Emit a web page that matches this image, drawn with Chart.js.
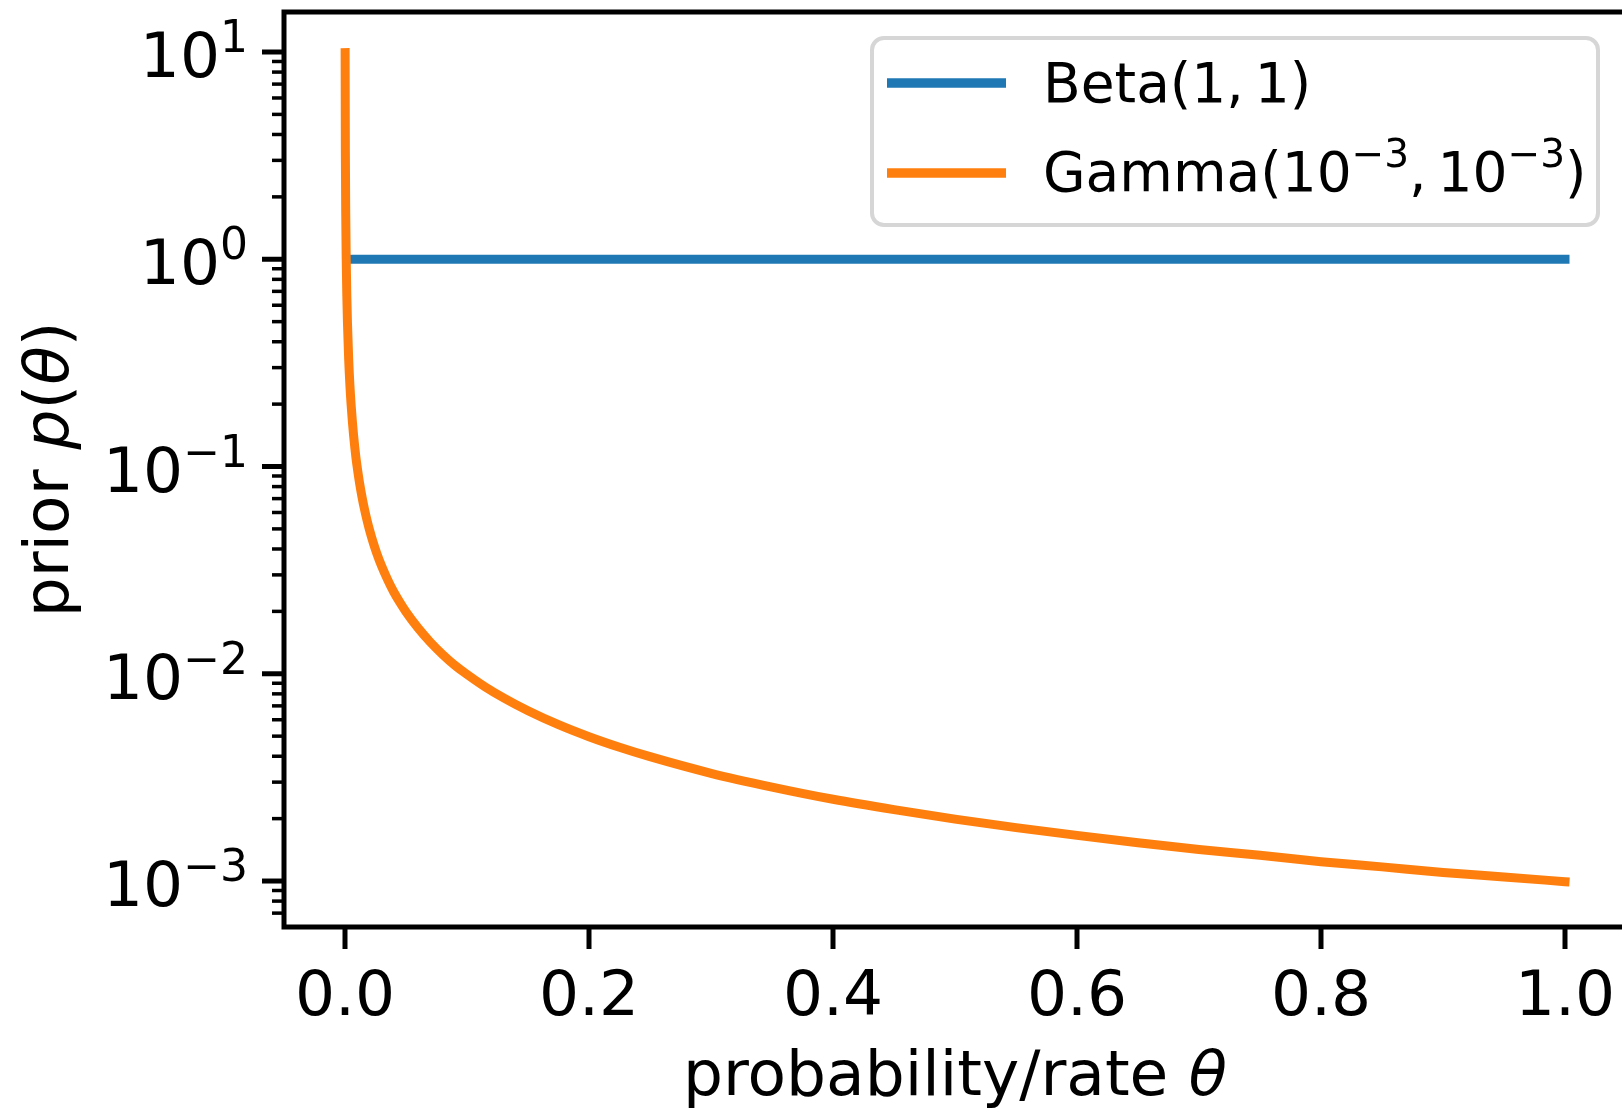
<!DOCTYPE html>
<html>
<head>
<meta charset="utf-8">
<script src="https://cdn.jsdelivr.net/npm/chart.js@4.4.0/dist/chart.umd.min.js"></script>
<style>
  html, body { margin: 0; padding: 0; background: #fff; overflow: hidden; }
  #wrap { width: 1622px; height: 1108px; overflow: hidden; position: relative; }
  #chart { position: absolute; left: 0; top: 0; }
</style>
</head>
<body>
<div id="wrap"><canvas id="chart" width="1640" height="1108"></canvas></div>
<script>
// values
const thetaGamma = [0.0001, 0.0003, 0.0006, 0.001, 0.0015, 0.002, 0.003, 0.004, 0.005, 0.006,
    0.007, 0.008, 0.009, 0.010, 0.012, 0.014, 0.016, 0.018, 0.020, 0.023, 0.026, 0.030, 0.035,
    0.040, 0.045, 0.050, 0.060, 0.070, 0.080, 0.090, 0.100, 0.115, 0.130, 0.150, 0.175, 0.200,
    0.225, 0.250, 0.300, 0.350, 0.400, 0.450, 0.500, 0.550, 0.600, 0.650, 0.700, 0.750, 0.800,
    0.850, 0.900, 0.950, 1.000];
const priorGamma = [9.93, 3.31, 1.66, 0.994, 0.663, 0.497, 0.331, 0.248, 0.199, 0.166,
    0.142, 0.124, 0.110, 0.0994, 0.0828, 0.0710, 0.0621, 0.0552, 0.0497, 0.0432, 0.0382, 0.0331, 0.0284,
    0.0248, 0.0221, 0.0199, 0.0166, 0.0142, 0.0124, 0.0110, 0.00994, 0.00864, 0.00765, 0.00663, 0.00568, 0.00497,
    0.00442, 0.00398, 0.00331, 0.00284, 0.00248, 0.00221, 0.00199, 0.00181, 0.00166, 0.00153, 0.00142, 0.00133, 0.00124,
    0.00117, 0.00110, 0.001046, 0.000993];
const thetaBeta = [0.006, 1.0];
const priorBeta = [1, 1];

const xTicks = [0, 0.2, 0.4, 0.6, 0.8, 1.0];
const xTickLabels = ['0.0', '0.2', '0.4', '0.6', '0.8', '1.0'];
const yTicks = [1e-3, 1e-2, 1e-1, 1, 10];
const yExponents = ['\u22123', '\u22122', '\u22121', '0', '1'];

const seriesNames = ['Beta', 'Gamma'];
const colors = ['#1f77b4', '#ff7f0e'];

const X_MIN = -0.05, X_MAX = 1.05;
const Y_MIN = Math.pow(10, -3.199), Y_MAX = Math.pow(10, 1.193);

// minor log ticks 2..9 x 10^k inside the visible range
const yMinor = [];
for (let k = -4; k <= 1; k++) {
    for (let m = 2; m <= 9; m++) {
        const v = m * Math.pow(10, k);
        if (v >= Y_MIN && v <= Y_MAX) yMinor.push(v);
    }
}

const FONT = '"DejaVu Sans", "Noto Sans", sans-serif';

// draw a run of text pieces with own fonts / vertical shifts
function drawRun(ctx, parts, x, y, align) {
    let total = 0;
    parts.forEach(p => { ctx.font = p.font; p.w = ctx.measureText(p.text).width; total += p.w; });
    let cx = align === 'right' ? x - total : align === 'center' ? x - total / 2 : x;
    ctx.textAlign = 'left';
    ctx.textBaseline = 'alphabetic';
    parts.forEach(p => {
        ctx.font = p.font;
        ctx.fillText(p.text, cx, y + (p.dy || 0));
        cx += p.w;
    });
}

const axesPlugin = {
    id: 'mplAxes',
    afterDraw(chart) {
        const ctx = chart.ctx;
        const a = chart.chartArea;
        const xs = chart.scales.x, ys = chart.scales.y;
        ctx.save();
        ctx.strokeStyle = '#000';
        ctx.fillStyle = '#000';

        // spines
        ctx.lineWidth = 5;
        ctx.lineCap = 'square';
        ctx.beginPath();
        ctx.moveTo(a.left, a.bottom); ctx.lineTo(a.right, a.bottom);
        ctx.moveTo(a.left, a.top); ctx.lineTo(a.right, a.top);
        ctx.moveTo(a.left, a.top); ctx.lineTo(a.left, a.bottom);
        ctx.moveTo(a.right, a.top); ctx.lineTo(a.right, a.bottom);
        ctx.stroke();

        // x ticks + labels
        ctx.lineCap = 'butt';
        ctx.lineWidth = 5;
        xTicks.forEach((v, i) => {
            const px = xs.getPixelForValue(v);
            ctx.beginPath();
            ctx.moveTo(px, a.bottom); ctx.lineTo(px, a.bottom + 22);
            ctx.stroke();
            drawRun(ctx, [{ text: xTickLabels[i], font: '63px ' + FONT }], px, 1015, 'center');
        });

        // y major ticks + labels
        yTicks.forEach((v, i) => {
            const py = ys.getPixelForValue(v);
            ctx.lineWidth = 5;
            ctx.beginPath();
            ctx.moveTo(a.left, py); ctx.lineTo(a.left - 22, py);
            ctx.stroke();
            drawRun(ctx, [
                { text: '10', font: '63px ' + FONT, dy: 25 },
                { text: yExponents[i], font: '44px ' + FONT, dy: 0 }
            ], 248, py, 'right');
        });
        // y minor ticks
        ctx.lineWidth = 3.5;
        yMinor.forEach(v => {
            const py = ys.getPixelForValue(v);
            ctx.beginPath();
            ctx.moveTo(a.left, py); ctx.lineTo(a.left - 12, py);
            ctx.stroke();
        });

        // axis titles
        const midX = (a.left + a.right) / 2;
        drawRun(ctx, [
            { text: 'probability/rate ', font: '63px ' + FONT },
            { text: '\u03b8', font: 'italic 63px ' + FONT }
        ], midX, 1095, 'center');

        ctx.save();
        ctx.translate(68, (a.top + a.bottom) / 2);
        ctx.rotate(-Math.PI / 2);
        drawRun(ctx, [
            { text: 'prior ', font: '63px ' + FONT },
            { text: 'p', font: 'italic 63px ' + FONT },
            { text: '(', font: '63px ' + FONT },
            { text: '\u03b8', font: 'italic 63px ' + FONT },
            { text: ')', font: '63px ' + FONT }
        ], 0, 0, 'center');
        ctx.restore();

        // legend
        const lx = 872, ly = 38, lw = 726, lh = 187, r = 12;
        ctx.beginPath();
        ctx.moveTo(lx + r, ly);
        ctx.arcTo(lx + lw, ly, lx + lw, ly + lh, r);
        ctx.arcTo(lx + lw, ly + lh, lx, ly + lh, r);
        ctx.arcTo(lx, ly + lh, lx, ly, r);
        ctx.arcTo(lx, ly, lx + lw, ly, r);
        ctx.closePath();
        ctx.fillStyle = 'rgba(255,255,255,0.8)';
        ctx.fill();
        ctx.lineWidth = 4;
        ctx.strokeStyle = '#d6d6d6';
        ctx.stroke();

        const rows = [83, 173];
        rows.forEach((ry, i) => {
            ctx.strokeStyle = colors[i];
            ctx.lineWidth = 9.5;
            ctx.lineCap = 'butt';
            ctx.beginPath();
            ctx.moveTo(887, ry); ctx.lineTo(1006, ry);
            ctx.stroke();
        });
        ctx.fillStyle = '#000';
        drawRun(ctx, [{ text: seriesNames[0] + '(1,\u20091)', font: '55px ' + FONT }], 1043, 102, 'left');
        drawRun(ctx, [
            { text: seriesNames[1] + '(10', font: '55px ' + FONT },
            { text: '\u22123', font: '39px ' + FONT, dy: -24 },
            { text: ',\u200910', font: '55px ' + FONT },
            { text: '\u22123', font: '39px ' + FONT, dy: -24 },
            { text: ')', font: '55px ' + FONT }
        ], 1043, 191, 'left');

        ctx.restore();
    }
};

const ctx = document.getElementById('chart');

new Chart(ctx, {
    type: 'line',
    data: {
        datasets: [
            {
                label: seriesNames[0],
                data: thetaBeta.map((t, i) => ({ x: t, y: priorBeta[i] })),
                borderColor: colors[0],
                backgroundColor: colors[0],
                borderWidth: 9,
                borderCapStyle: 'square',
                pointRadius: 0,
                order: 2
            },
            {
                label: seriesNames[1],
                data: thetaGamma.map((t, i) => ({ x: t, y: priorGamma[i] })),
                borderColor: colors[1],
                backgroundColor: colors[1],
                borderWidth: 9,
                borderCapStyle: 'square',
                borderJoinStyle: 'round',
                cubicInterpolationMode: 'monotone',
                pointRadius: 0,
                order: 1
            }
        ]
    },
    options: {
        responsive: false,
        animation: false,
        devicePixelRatio: 1,
        layout: { padding: { left: 284, top: 12, right: 14, bottom: 181 } },
        plugins: { legend: { display: false }, tooltip: { enabled: false } },
        scales: {
            x: { type: 'linear', min: X_MIN, max: X_MAX, display: false },
            y: { type: 'logarithmic', min: Y_MIN, max: Y_MAX, display: false }
        }
    },
    plugins: [axesPlugin]
});
</script>
</body>
</html>
